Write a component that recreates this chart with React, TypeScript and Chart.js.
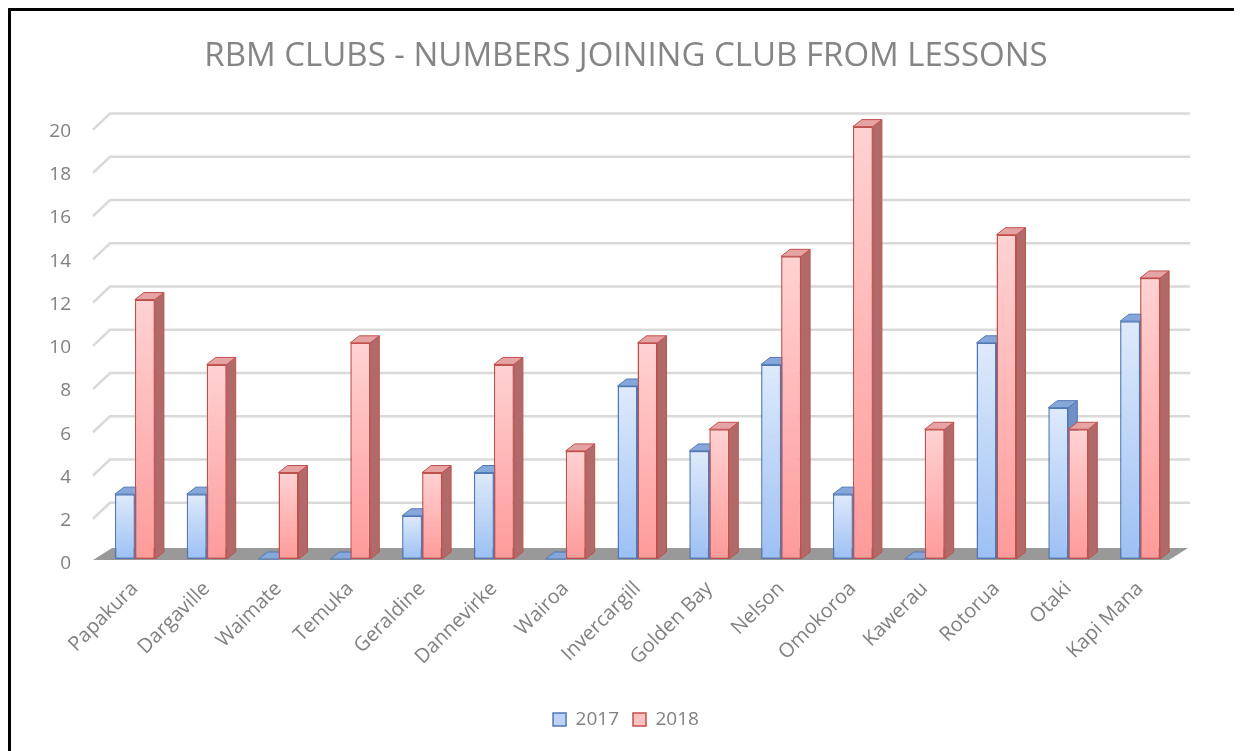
import React, { useEffect, useRef } from "react";
import { Chart, registerables } from "chart.js";

Chart.register(...registerables);

const titleText = "RBM CLUBS - NUMBERS JOINING CLUB FROM LESSONS";
const categories = [
  "Papakura", "Dargaville", "Waimate", "Temuka", "Geraldine", "Dannevirke", "Wairoa",
  "Invercargill", "Golden Bay", "Nelson", "Omokoroa", "Kawerau", "Rotorua", "Otaki", "Kapi Mana",
];
const seriesLabels = ["2017", "2018"];
const values2017 = [3, 3, 0, 0, 2, 4, 0, 8, 5, 9, 3, 0, 10, 7, 11];
const values2018 = [12, 9, 4, 10, 4, 9, 5, 10, 6, 14, 20, 6, 15, 6, 13];
const yMin = 0;
const yMax = 20;
const yStep = 2;

const FONT = "'Open Sans', sans-serif";
const TEXT = "#808080";

const frontTop = ["#dfeafb", "#ffd2d2"];
const frontBottom = ["#9cc0f4", "#ff9a9a"];
const borderCols = ["#4f78b4", "#c0504d"];
const sideCols = ["#6f8fc6", "#b06a6a"];
const topCols = ["#86a7da", "#e6a3a3"];
const legendFill = ["#bcd3f7", "#ffc0c0"];

const DX = 9;
const DY = -7;

const threeD = {
  id: "threeD",
  beforeDatasetsDraw(chart: any) {
    const { ctx, chartArea, scales } = chart;
    const ys = scales.y;
    const left = chartArea.left;
    const right = chartArea.right;
    ctx.save();
    // back-wall gridlines
    ctx.strokeStyle = "#d9d9d9";
    ctx.lineWidth = 2.5;
    ys.ticks.forEach((t: any) => {
      if (t.value === 0) return;
      const py = ys.getPixelForValue(t.value);
      ctx.beginPath();
      ctx.moveTo(left - 6, py + 3);
      ctx.lineTo(left + 11, py - 13);
      ctx.lineTo(right + 14, py - 13);
      ctx.stroke();
    });
    // floor
    const y0 = ys.getPixelForValue(0);
    ctx.fillStyle = "#999999";
    ctx.beginPath();
    ctx.moveTo(left - 6, y0 + 1);
    ctx.lineTo(left + 13, y0 - 11);
    ctx.lineTo(right + 12, y0 - 11);
    ctx.lineTo(right - 7, y0 + 1);
    ctx.closePath();
    ctx.fill();
    // side and top faces
    chart.data.datasets.forEach((_ds: any, di: number) => {
      const meta = chart.getDatasetMeta(di);
      meta.data.forEach((bar: any) => {
        const p = bar.getProps(["x", "y", "base", "width"], true);
        const l = p.x - p.width / 2;
        const r = p.x + p.width / 2;
        ctx.lineWidth = 1;
        ctx.strokeStyle = borderCols[di];
        ctx.fillStyle = sideCols[di];
        ctx.beginPath();
        ctx.moveTo(r, p.y);
        ctx.lineTo(r + DX, p.y + DY);
        ctx.lineTo(r + DX, p.base + DY);
        ctx.lineTo(r, p.base);
        ctx.closePath();
        ctx.fill();
        ctx.stroke();
        ctx.fillStyle = topCols[di];
        ctx.beginPath();
        ctx.moveTo(l, p.y);
        ctx.lineTo(l + DX, p.y + DY);
        ctx.lineTo(r + DX, p.y + DY);
        ctx.lineTo(r, p.y);
        ctx.closePath();
        ctx.fill();
        ctx.stroke();
      });
    });
    ctx.restore();
  },
};

function frontFill(di: number) {
  return (c: any) => {
    const chart = c.chart;
    if (!chart.chartArea || c.type !== "data") return legendFill[di];
    const ys = chart.scales.y;
    const top = ys.getPixelForValue(c.raw);
    const base = ys.getPixelForValue(0);
    if (Math.abs(base - top) < 1) return frontBottom[di];
    const g = chart.ctx.createLinearGradient(0, top, 0, base);
    g.addColorStop(0, frontTop[di]);
    g.addColorStop(1, frontBottom[di]);
    return g;
  };
}

export default function App() {
  const ref = useRef<HTMLCanvasElement>(null);
  useEffect(() => {
    const chart = new Chart(ref.current!, {
      type: "bar",
      data: {
        labels: categories,
        datasets: [values2017, values2018].map((vals, di) => ({
          label: seriesLabels[di],
          data: vals,
          backgroundColor: frontFill(di),
          borderColor: borderCols[di],
          borderWidth: 1.5,
          borderSkipped: false,
          categoryPercentage: 0.557,
          barPercentage: 1,
        })),
      },
      options: {
        responsive: false,
        animation: false,
        devicePixelRatio: 1,
        layout: { padding: { left: 0, right: 0, top: 0, bottom: 12 } },
        plugins: {
          title: {
            display: true,
            text: titleText,
            color: "#858585",
            font: { family: FONT, size: 33, weight: "normal" },
            padding: { top: 26, bottom: 50 },
          },
          legend: {
            position: "bottom",
            labels: {
              boxWidth: 13,
              boxHeight: 13,
              padding: 14,
              color: TEXT,
              font: { family: FONT, size: 19 },
              generateLabels: (ch: any) =>
                ch.data.datasets.map((ds: any, i: number) => ({
                  text: ds.label,
                  fillStyle: legendFill[i],
                  strokeStyle: borderCols[i],
                  lineWidth: 1.5,
                  datasetIndex: i,
                  hidden: false,
                  fontColor: TEXT,
                })),
            },
          },
          tooltip: { enabled: false },
        },
        scales: {
          x: {
            grid: { display: false },
            border: { display: false },
            ticks: {
              color: TEXT,
              font: { family: FONT, size: 20 },
              minRotation: 45,
              maxRotation: 45,
              autoSkip: false,
              padding: 10,
            },
            afterFit: (s: any) => {
              s.height = 137;
            },
          },
          y: {
            min: yMin,
            max: yMax,
            grid: { display: false },
            border: { display: false },
            ticks: {
              stepSize: yStep,
              color: TEXT,
              font: { family: FONT, size: 19 },
              padding: 20,
              labelOffset: 5,
            },
            afterFit: (s: any) => {
              s.width = 88;
            },
          },
          spacer: {
            type: "linear",
            position: "right",
            grid: { display: false },
            border: { display: false },
            ticks: { display: false },
            afterFit: (s: any) => {
              s.width = 65;
            },
          },
        },
      },
      plugins: [threeD],
    });
    return () => chart.destroy();
  }, []);
  return (
    <div
      style={{
        width: 1230,
        height: 740,
        borderTop: "3px solid #000",
        borderLeft: "3px solid #000",
        borderRight: "1px solid #e6e6e6",
        background: "#fff",
      }}
    >
      <canvas ref={ref} width={1230} height={740} style={{ display: "block" }} />
    </div>
  );
}
